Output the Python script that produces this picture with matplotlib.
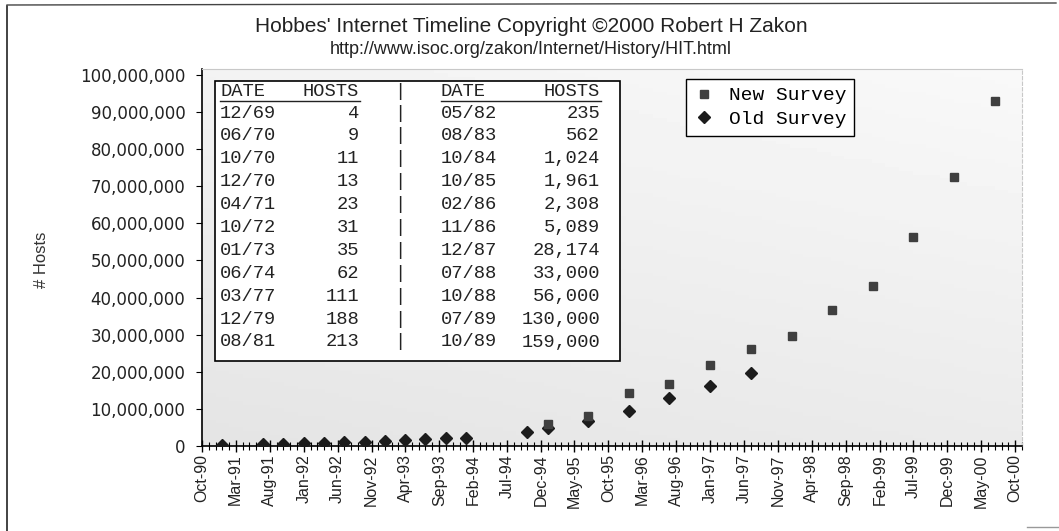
import numpy as np
import pandas as pd
import matplotlib
matplotlib.use("Agg")
from matplotlib import pyplot as plt
from matplotlib import dates as mdates
from matplotlib.ticker import FuncFormatter
from matplotlib.patches import Rectangle
from matplotlib.lines import Line2D

# survey data (hosts)
old_dates = ["1991-01", "1991-07", "1991-10", "1992-01", "1992-04", "1992-07",
             "1992-10", "1993-01", "1993-04", "1993-07", "1993-10", "1994-01",
             "1994-10", "1995-01", "1995-07", "1996-01", "1996-07", "1997-01",
             "1997-07"]
old_hosts = [376000, 535000, 617000, 727000, 890000, 992000,
             1136000, 1313000, 1486000, 1776000, 2056000, 2217000,
             3864000, 4852000, 6642000, 9472000, 12881000, 16146000,
             19540000]
new_dates = ["1995-01", "1995-07", "1996-01", "1996-07", "1997-01", "1997-07",
             "1998-01", "1998-07", "1999-01", "1999-07", "2000-01", "2000-07"]
new_hosts = [5846000, 8200000, 14352000, 16729000, 21819000, 26053000,
             29670000, 36739000, 43230000, 56218000, 72398092, 93047785]

# early history table
tbl_date1 = ["12/69", "06/70", "10/70", "12/70", "04/71", "10/72", "01/73",
             "06/74", "03/77", "12/79", "08/81"]
tbl_host1 = ["4", "9", "11", "13", "23", "31", "35", "62", "111", "188", "213"]
tbl_date2 = ["05/82", "08/83", "10/84", "10/85", "02/86", "11/86", "12/87",
             "07/88", "10/88", "07/89", "10/89"]
tbl_host2 = ["235", "562", "1,024", "1,961", "2,308", "5,089", "28,174",
             "33,000", "56,000", "130,000", "159,000"]

W, H = 1059, 531
fig = plt.figure(figsize=(W / 100, H / 100), dpi=100)
fig.patch.set_facecolor("white")

def fx(px):
    return px / W

def fy(py):
    return 1 - py / H

ax = fig.add_axes([fx(202), fy(446), fx(1022) - fx(202), fy(69) - fy(446)])

# light gray gradient plot area, a bit darker toward the lower left
gy = np.linspace(0.965, 0.91, 100).reshape(-1, 1)
gx = np.linspace(-0.015, 0.01, 60).reshape(1, -1)
grad = gy + gx
ax.imshow(grad, cmap="gray", vmin=0, vmax=1, extent=[0, 1, 0, 1],
          transform=ax.transAxes, aspect="auto", zorder=0)

x_old = pd.to_datetime(old_dates)
x_new = pd.to_datetime(new_dates)
ax.plot(x_old, old_hosts, linestyle="none", marker="D", markersize=6.0,
        color="#1c1c1c", label="Old Survey", zorder=3)
ax.plot(x_new, new_hosts, linestyle="none", marker="s", markersize=6.3,
        color="#3f3f3f", label="New Survey", zorder=4)

ax.set_xlim(pd.Timestamp("1990-10-01"), pd.Timestamp("2000-11-01"))
ax.set_ylim(0, 101.6e6)

major = pd.date_range("1990-10-01", "2000-10-01", freq="5MS")
ax.set_xticks(major)
ax.xaxis.set_major_formatter(mdates.DateFormatter("%b-%y"))
ax.xaxis.set_minor_locator(mdates.MonthLocator())
ax.tick_params(axis="x", which="major", direction="inout", length=8, width=1,
               labelrotation=90, labelsize=11.5, pad=2)
ax.tick_params(axis="x", which="minor", direction="inout", length=6, width=0.8)
for lab in ax.get_xticklabels():
    lab.set_family("Liberation Sans")
    lab.set_color("#222222")

ax.set_yticks(np.arange(0, 100e6 + 1, 10e6))
ax.yaxis.set_major_formatter(FuncFormatter(lambda v, p: f"{v:,.0f}"))
ax.tick_params(axis="y", direction="out", length=4, width=0.8,
               labelsize=12, pad=8)
for lab in ax.get_yticklabels():
    lab.set_family("DejaVu Sans")
    lab.set_color("#222222")

ax.spines["left"].set_linewidth(1.2)
ax.spines["bottom"].set_linewidth(1.2)
ax.spines["top"].set_color("#c8c8c8")
ax.spines["top"].set_linewidth(0.8)
ax.spines["right"].set_color("#c8c8c8")
ax.spines["right"].set_linestyle((0, (3, 2)))
ax.spines["right"].set_linewidth(0.8)

fig.text(fx(42), fy(260), "# Hosts", rotation=90, ha="center", va="center",
         fontsize=12, family="Liberation Sans", color="#333333")

fig.text(fx(531), fy(27), "Hobbes' Internet Timeline Copyright \u00a92000 Robert H Zakon",
         ha="center", va="center", fontsize=15, family="Liberation Sans",
         color="#222222")
fig.text(fx(531), fy(49), "http://www.isoc.org/zakon/Internet/History/HIT.html",
         ha="center", va="center", fontsize=13, family="Liberation Sans",
         color="#222222")

# legend
leg = ax.legend(handles=ax.get_lines()[::-1], loc="upper left",
                bbox_to_anchor=(fx(686), fy(79)), bbox_transform=fig.transFigure,
                borderaxespad=0, fancybox=False, framealpha=1, edgecolor="black",
                prop={"family": "Liberation Mono", "size": 14},
                handlelength=1.0, handletextpad=0.8, borderpad=0.4,
                labelspacing=0.3)
leg.get_frame().set_linewidth(1.0)
leg.set_zorder(10)

# history table
fig.add_artist(Rectangle((fx(215), fy(361)), fx(620) - fx(215), fy(81) - fy(361),
                         transform=fig.transFigure, facecolor="white",
                         edgecolor="black", linewidth=1.2, zorder=5))
mono = {"family": "Liberation Mono", "size": 13.5, "color": "#222222", "zorder": 6}
hy = 91
fig.text(fx(220), fy(hy), "DATE", ha="left", va="center", **mono)
fig.text(fx(359), fy(hy), "HOSTS", ha="right", va="center", **mono)
fig.text(fx(400), fy(hy), "|", ha="center", va="center", **mono)
fig.text(fx(441), fy(hy), "DATE", ha="left", va="center", **mono)
fig.text(fx(600), fy(hy), "HOSTS", ha="right", va="center", **mono)
for x0, x1 in [(220, 360), (441, 601)]:
    fig.add_artist(Line2D([fx(x0), fx(x1)], [fy(101), fy(101)],
                          transform=fig.transFigure, color="#222222",
                          linewidth=1.0, zorder=6))
for i in range(len(tbl_date1)):
    ry = 113 + 22.9 * i
    fig.text(fx(220), fy(ry), tbl_date1[i], ha="left", va="center", **mono)
    fig.text(fx(359), fy(ry), tbl_host1[i], ha="right", va="center", **mono)
    fig.text(fx(400), fy(ry), "|", ha="center", va="center", **mono)
    fig.text(fx(441), fy(ry), tbl_date2[i], ha="left", va="center", **mono)
    fig.text(fx(600), fy(ry), tbl_host2[i], ha="right", va="center", **mono)

# outer chart border (scanned: only left and top edges show)
fig.add_artist(Line2D([fx(7), fx(7)], [fy(6), fy(531)], transform=fig.transFigure,
                      color="#222222", linewidth=1.2))
fig.add_artist(Line2D([fx(7), fx(1056)], [fy(5), fy(3)], transform=fig.transFigure,
                      color="#444444", linewidth=1.0))
fig.add_artist(Line2D([fx(1027), fx(1059)], [fy(527), fy(527)],
                      transform=fig.transFigure, color="#999999", linewidth=1.0))

fig.savefig("out.png", dpi=100)
